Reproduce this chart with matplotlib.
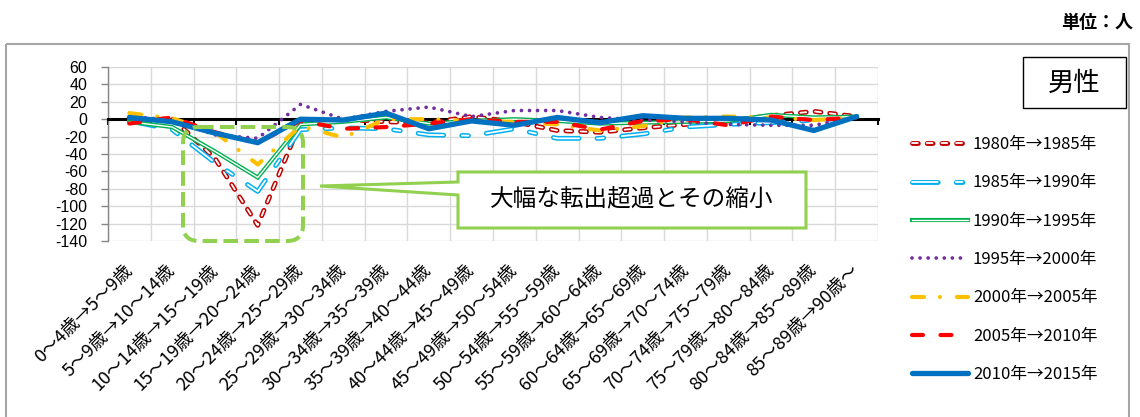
import matplotlib
matplotlib.use('Agg')
import matplotlib.pyplot as plt
from matplotlib.patches import FancyBboxPatch, Rectangle, Polygon

plt.rcParams['font.family'] = ['Noto Sans CJK JP', 'DejaVu Sans']
plt.rcParams['lines.scale_dashes'] = False

categories = [
    "0～4歳→5～9歳", "5～9歳→10～14歳", "10～14歳→15～19歳", "15～19歳→20～24歳",
    "20～24歳→25～29歳", "25～29歳→30～34歳", "30～34歳→35～39歳", "35～39歳→40～44歳",
    "40～44歳→45～49歳", "45～49歳→50～54歳", "50～54歳→55～59歳", "55～59歳→60～64歳",
    "60～64歳→65～69歳", "65～69歳→70～74歳", "70～74歳→75～79歳", "75～79歳→80～84歳",
    "80～84歳→85～89歳", "85～89歳→90歳～",
]
series_labels = ["1980年→1985年", "1985年→1990年", "1990年→1995年", "1995年→2000年",
                 "2000年→2005年", "2005年→2010年", "2010年→2015年"]
s1980 = [-3, 1, -45, -122, -4, 0, -3, -4, 3, -3, -13, -15, -10, -6, -2, 4, 9, 3]
s1985 = [-2, -12, -50, -83, -12, -10, -11, -18, -19, -11, -22, -22, -17, -9, -6, -4, -1, 2]
s1990 = [-3, -9, -37, -67, -6, -3, 2, -5, -2, 0, -2, -5, -4, -3, -2, 5, 2, 3]
s1995 = [3, -1, -18, -22, 17, 0, 9, 14, 3, 10, 10, 2, -1, -3, -6, -7, -7, 2]
s2000 = [7, 1, -15, -52, -8, -21, 0, 0, -2, -3, -6, -13, -8, 2, 3, 2, -1, 2]
s2005 = [-5, 2, -15, -27, -2, -11, -9, -5, 0, -3, -3, -12, -2, 0, -7, 3, -1, 2]
s2010 = [2, -3, -16, -27, 0, -1, 7, -11, -2, -7, 2, -4, 4, 1, 1, -1, -13, 3]
yticks = list(range(-140, 61, 20))

W, H = 1140, 417
fig = plt.figure(figsize=(W / 100, H / 100), dpi=100)
ax = fig.add_axes([108 / W, 1 - 241 / H, 770 / W, 174 / H])
x = list(range(len(categories)))

handles = []
# 1980 hollow dashed
o, = ax.plot(x, s1980, color='#C00000', lw=3.5, dashes=(4.2, 6.4), dash_capstyle='round', zorder=3)
i, = ax.plot(x, s1980, color='white', lw=1.3, dashes=(4.2, 6.4), dash_capstyle='round', zorder=3)
handles.append((o, i))
# 1985 hollow long-short dash
pat = (18.5, 13.0, 4.8, 13.0)
o, = ax.plot(x, s1985, color='#00B0F0', lw=3.5, dashes=pat, dash_capstyle='round', zorder=3)
i, = ax.plot(x, s1985, color='white', lw=1.3, dashes=pat, dash_capstyle='round', zorder=3)
handles.append((o, i))
# 1990 double line
o, = ax.plot(x, s1990, color='#00B050', lw=3.0, solid_joinstyle='miter', zorder=3)
i, = ax.plot(x, s1990, color='white', lw=1.0, solid_joinstyle='miter', zorder=3)
handles.append((o, i))
# 1995 dotted
l, = ax.plot(x, s1995, color='#7030A0', lw=2.7, dashes=(0.01, 5.8), dash_capstyle='round', zorder=3)
handles.append(l)
# 2000 dash-dot
l, = ax.plot(x, s2000, color='#FFC000', lw=3.0, dashes=(8.6, 11.5, 0.01, 12.2), dash_capstyle='round', zorder=3)
handles.append(l)
# 2005 dashed
l, = ax.plot(x, s2005, color='#FF0000', lw=3.0, dashes=(7.9, 12.6), dash_capstyle='round', zorder=3)
handles.append(l)
# 2010 solid
l, = ax.plot(x, s2010, color='#0070C0', lw=3.8, solid_joinstyle='round', solid_capstyle='round', zorder=3)
handles.append(l)

ax.set_xlim(-0.5, len(categories) - 0.5)
ax.set_ylim(-140, 60)
ax.set_yticks(yticks)
ax.set_yticklabels([str(v) for v in yticks], fontfamily='Liberation Sans', fontsize=11.5)
ax.set_xticks([b - 0.5 for b in range(len(categories) + 1)])
ax.set_xticklabels([])
ax.grid(True, color='#D9D9D9', lw=1.0, zorder=0)
ax.set_axisbelow(True)
for s in ['top', 'right']:
    ax.spines[s].set_visible(False)
ax.spines['left'].set_color('#868686')
ax.spines['left'].set_linewidth(1.0)
ax.spines['bottom'].set_position(('data', 0))
ax.spines['bottom'].set_color('black')
ax.spines['bottom'].set_linewidth(2.2)
ax.spines['bottom'].set_zorder(2.5)
ax.tick_params(axis='x', direction='out', length=4, width=1.5, color='black')
ax.tick_params(axis='y', direction='out', length=5, width=1.0, color='#868686', pad=10)

sec = ax.secondary_xaxis('bottom')
sec.set_xticks(x)
sec.set_xticklabels(categories, rotation=45, ha='right', va='center', rotation_mode='anchor', fontsize=13)
sec.tick_params(length=0, pad=19)
sec.spines['bottom'].set_visible(False)

leg = fig.legend(handles, series_labels, loc='upper left', bbox_to_anchor=(912 / W, 1 - 136 / H),
                 frameon=False, fontsize=12, handlelength=3.36, handletextpad=0.3,
                 labelspacing=1.28, borderpad=0, borderaxespad=0)

ov = fig.add_axes([0, 0, 1, 1], zorder=10)
ov.set_xlim(0, W)
ov.set_ylim(H, 0)
ov.axis('off')
ov.add_patch(Rectangle((6, 44), 1123, 400, fill=False, ec='#A6A6A6', lw=1.5))
ov.text(1133, 22, '単位：人', ha='right', va='center', fontsize=13, fontweight='bold')
ov.add_patch(Rectangle((1023, 57), 103, 51, fc='white', ec='black', lw=1.0))
ov.text(1074.5, 83, '男性', ha='center', va='center', fontsize=19)
ov.add_patch(FancyBboxPatch((183, 127), 120, 114, boxstyle='round,pad=0,rounding_size=16',
                            fill=False, ec='#92D050', lw=2.9, linestyle=(0, (10.5, 4.5))))
ov.add_patch(Polygon([(458, 172), (806, 172), (806, 228), (458, 228), (458, 195), (320, 186), (458, 182)],
                     closed=True, fc='white', ec='#92D050', lw=2.2))
ov.text(632, 200, '大幅な転出超過とその縮小', ha='center', va='center', fontsize=17)

fig.savefig('out.png', dpi=100)
